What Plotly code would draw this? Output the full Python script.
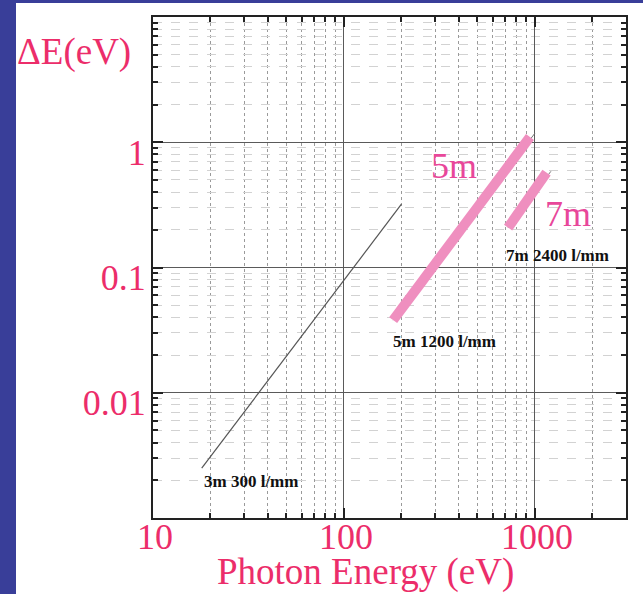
import numpy as np
import plotly.graph_objects as go

# ---------------- data ----------------
x_tick_vals = [10, 100, 1000]
x_tick_text = ["10", "100", "1000"]
y_tick_vals = [0.001, 0.01, 0.1, 1, 10]
y_tick_text = ["", "0.01", "0.1", "1", ""]

# 3 m, 300 l/mm grating (thin line)
e_3m = [18, 200]
de_3m = [0.0025, 0.32]

# 5 m, 1200 l/mm grating
e_5m = [181, 1000]
de_5m = [0.038, 1.18]
e_5m_band = [181, 942]
de_5m_band = [0.038, 1.10]

# 7 m, 2400 l/mm grating
e_7m = [724, 1213]
de_7m = [0.208, 0.586]
e_7m_band = [724, 1151]
de_7m_band = [0.208, 0.572]

# ---------------- styling ----------------
W, H = 643, 594
ML, MR, MT, MB = 153, 17, 17, 76
PW, PH = W - ML - MR, H - MT - MB

def px(xp):
    return (xp - ML) / PW

def py(yp):
    return (H - MB - yp) / PH

PINK_TXT = "#EC2D6A"
PINK_LBL = "#E8479A"
PINK_BAND = "#EF8FBF"
BLUE = "#393E99"
SERIF = "Liberation Serif, Times New Roman, serif"

minor_x = [m * 10 ** d for d in range(1, 4) for m in range(2, 10)]
minor_y = [m * 10 ** d for d in range(-3, 1) for m in range(2, 10)]

fig = go.Figure()

fig.add_trace(go.Scatter(x=e_3m, y=de_3m, mode="lines",
                         line=dict(color="#555555", width=1.2), showlegend=False))
fig.add_trace(go.Scatter(x=e_5m, y=de_5m, mode="lines",
                         line=dict(color="#777777", width=1), showlegend=False))
fig.add_trace(go.Scatter(x=e_7m, y=de_7m, mode="lines",
                         line=dict(color="#777777", width=1), showlegend=False))
fig.add_trace(go.Scatter(x=e_5m_band, y=de_5m_band, mode="lines",
                         line=dict(color=PINK_BAND, width=10), showlegend=False))
fig.add_trace(go.Scatter(x=e_7m_band, y=de_7m_band, mode="lines",
                         line=dict(color=PINK_BAND, width=10), showlegend=False))

axis_common = dict(
    type="log",
    showline=True, linecolor="#222222", linewidth=2, mirror="allticks",
    ticks="inside", ticklen=10, tickwidth=2, tickcolor="#222222",
    showgrid=True, gridcolor="#5a5a5a", gridwidth=1,
    tickfont=dict(family=SERIF, size=36, color=PINK_TXT),
    zeroline=False,
    tickmode="array",
)

fig.update_xaxes(**axis_common,
                 range=[1, np.log10(3000)],
                 tickvals=x_tick_vals, ticktext=x_tick_text,
                 ticklabelstandoff=-14, ticklabelshift=2,
                 minor=dict(tickmode="array", tickvals=minor_x, ticks="inside",
                            ticklen=5, tickwidth=1.5, tickcolor="#222222",
                            showgrid=True, gridcolor="#9a9a9a", griddash="dot",
                            gridwidth=1))
fig.update_yaxes(**axis_common,
                 range=[-3, 1],
                 tickvals=y_tick_vals, ticktext=y_tick_text,
                 ticklabelstandoff=-2, ticklabelshift=10,
                 minor=dict(tickmode="array", tickvals=minor_y, ticks="inside",
                            ticklen=5, tickwidth=1.5, tickcolor="#222222",
                            showgrid=True, gridcolor="#d2d2d2", griddash="dash",
                            gridwidth=1))

def ann(text, x, y, size, color, ref="data"):
    d = dict(text=text, x=x, y=y, showarrow=False, xanchor="center",
             yanchor="middle", font=dict(family=SERIF, size=size, color=color))
    if ref == "paper":
        d.update(xref="paper", yref="paper")
    return d

annotations = [
    ann("ΔE(eV)", px(74), py(52), 37, PINK_TXT, "paper"),
    ann("Photon Energy (eV)", px(365), py(572), 37, PINK_TXT, "paper"),
    ann("<b>3m 300 l/mm</b>", np.log10(32.6), np.log10(0.00194), 17, "#111111"),
    ann("<b>5m 1200 l/mm</b>", np.log10(338), np.log10(0.0256), 17, "#111111"),
    ann("<b>7m 2400 l/mm</b>", np.log10(1318), np.log10(0.125), 17, "#111111"),
    ann("5m", np.log10(377), np.log10(0.643), 36, PINK_LBL),
    ann("7m", np.log10(1489), np.log10(0.265), 36, PINK_LBL),
]

shapes = [
    dict(type="rect", xref="paper", yref="paper", x0=px(0), x1=px(16),
         y0=py(H), y1=py(0), fillcolor=BLUE, line=dict(width=0), layer="above"),
    dict(type="rect", xref="paper", yref="paper", x0=px(0), x1=px(W),
         y0=py(3), y1=py(0), fillcolor=BLUE, line=dict(width=0), layer="above"),
]

fig.update_layout(
    width=W, height=H,
    margin=dict(l=ML, r=MR, t=MT, b=MB, pad=0),
    paper_bgcolor="white", plot_bgcolor="white",
    annotations=annotations, shapes=shapes,
    showlegend=False,
)

fig.write_html("out.html", config={"displayModeBar": False},
               post_script="document.body.style.margin='0';document.body.style.padding='0';")
